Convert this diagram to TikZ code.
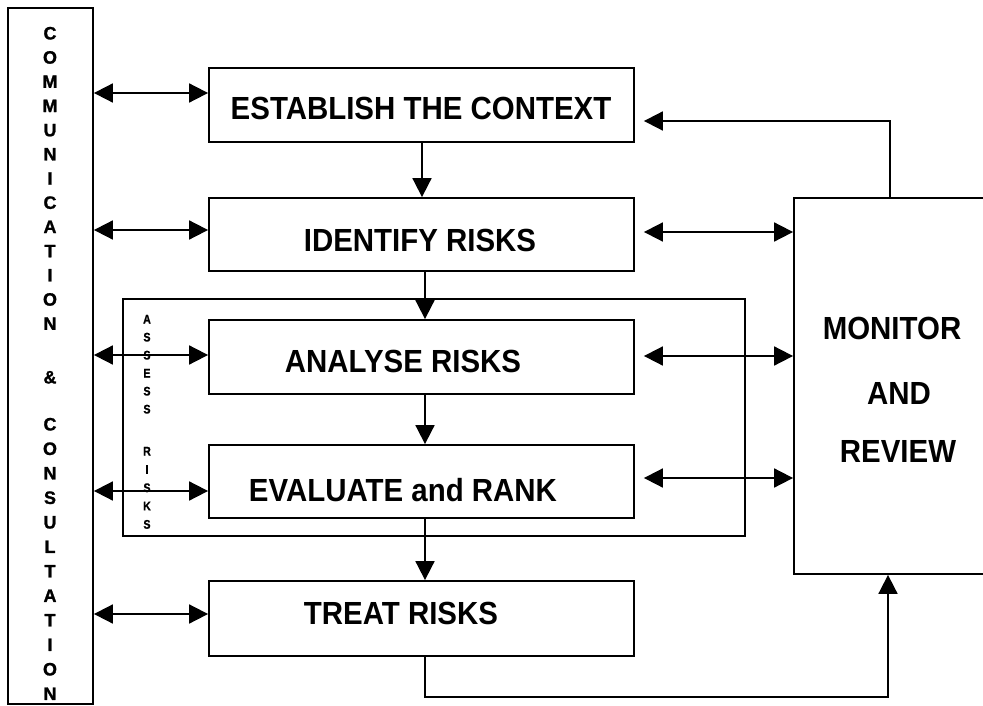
\documentclass[tikz,border=0pt]{standalone}
\usepackage{fontspec}
\setmainfont{Liberation Sans}
\newfontfamily\labfont[FakeStretch=0.92]{Liberation Sans}
\newfontfamily\letfont[BoldFeatures={FakeBold=1.2}]{Liberation Sans}
\newfontfamily\tinyfont[FakeStretch=0.85,BoldFeatures={FakeBold=1}]{Liberation Sans}
\usetikzlibrary{arrows.meta}
\begin{document}
\begin{tikzpicture}[x=1pt,y=-1pt,
  box/.style={draw, line width=1.8pt, minimum width=425pt, inner sep=0pt},
  biglab/.style={font={\labfont\bfseries\fontsize{32}{32}\selectfont}, text height=22.9pt, text depth=0pt, inner sep=0pt},
  vlet/.style={font={\letfont\bfseries\fontsize{18}{18}\selectfont}, text height=12.9pt, text depth=0pt, inner sep=0pt},
  alet/.style={font={\tinyfont\bfseries\fontsize{12.5}{12.5}\selectfont}, text height=9pt, text depth=0pt, inner sep=0pt},
  arr/.style={line width=1.8pt, -{Triangle[length=19pt,width=19pt]}},
  dbl/.style={line width=1.8pt, {Triangle[length=19pt,width=19pt]}-{Triangle[length=19pt,width=19pt]}}
]
\useasboundingbox (0,0) rectangle (983,706);
% boxes
\node[box, minimum width=85pt, minimum height=696pt] (comm) at (50.5,356) {};
\node[box, minimum width=622pt, minimum height=237pt] (ass) at (434,417.5) {};
\node[box, minimum height=74pt] (est) at (421.5,105) {};
\node[box, minimum height=73pt] (ide) at (421.5,234.5) {};
\node[box, minimum height=74pt] (ana) at (421.5,357) {};
\node[box, minimum height=73pt] (eva) at (421.5,481.5) {};
\node[box, minimum height=75pt] (tre) at (421.5,618.5) {};
\node[box, minimum width=206pt, minimum height=376pt] (mon) at (897,386) {};
% labels
\node[biglab] (estT) at (421,108) {ESTABLISH THE CONTEXT};
\node[biglab] (ideT) at (420,240) {IDENTIFY RISKS};
\node[biglab] (anaT) at (403,361) {ANALYSE RISKS};
\node[biglab] (evaT) at (403,490) {EVALUATE and RANK};
\node[biglab] (treT) at (401,613) {TREAT RISKS};
\node[biglab] (monA) at (892,328) {MONITOR};
\node[biglab] (monB) at (899,393) {AND};
\node[biglab] (monC) at (898,451) {REVIEW};
% vertical letters
\foreach \ch [count=\i] in {C,O,M,M,U,N,I,C,A,T,I,O,N}
  \node[vlet] (ca\i) at (50,{33+24.2*(\i-1)}) {\ch};
\node[vlet] (amp) at (50,377) {\&};
\foreach \ch [count=\i] in {C,O,N,S,U,L,T,A,T,I,O,N}
  \node[vlet] (cb\i) at (50,{424+24.5*(\i-1)}) {\ch};
\foreach \ch [count=\i] in {A,S,S,E,S,S}
  \node[alet] (aa\i) at (147,{319+18*(\i-1)}) {\ch};
\foreach \ch [count=\i] in {R,I,S,K,S}
  \node[alet] (ab\i) at (147,{451+18.3*(\i-1)}) {\ch};
% left connectors
\draw[dbl] (comm.east |- 0,93) -- (est.west |- 0,93);
\draw[dbl] (comm.east |- 0,230) -- (ide.west |- 0,230);
\draw[dbl] (comm.east |- 0,355) -- (ana.west |- 0,355);
\draw[dbl] (comm.east |- 0,491) -- (eva.west |- 0,491);
\draw[dbl] (comm.east |- 0,614) -- (tre.west |- 0,614);
% right connectors
\draw[dbl, shorten <=9pt] (ide.east |- 0,232) -- (mon.west |- 0,232);
\draw[dbl, shorten <=9pt] (ana.east |- 0,356) -- (mon.west |- 0,356);
\draw[dbl, shorten <=9pt] (eva.east |- 0,478) -- (mon.west |- 0,478);
% feedback
\draw[arr, shorten >=9pt] (mon.north -| 890,0) -- (890,121) -- (est.east |- 0,121);
% down arrows
\draw[arr] (est.south -| 422,0) -- (ide.north -| 422,0);
\draw[arr] (ide.south -| 425,0) -- (ana.north -| 425,0);
\draw[arr] (ana.south -| 425,0) -- (eva.north -| 425,0);
\draw[arr] (eva.south -| 425,0) -- (tre.north -| 425,0);
\draw[arr] (tre.south -| 425,0) -- (425,697) -- (888,697) -- (mon.south -| 888,0);
\end{tikzpicture}
\end{document}
